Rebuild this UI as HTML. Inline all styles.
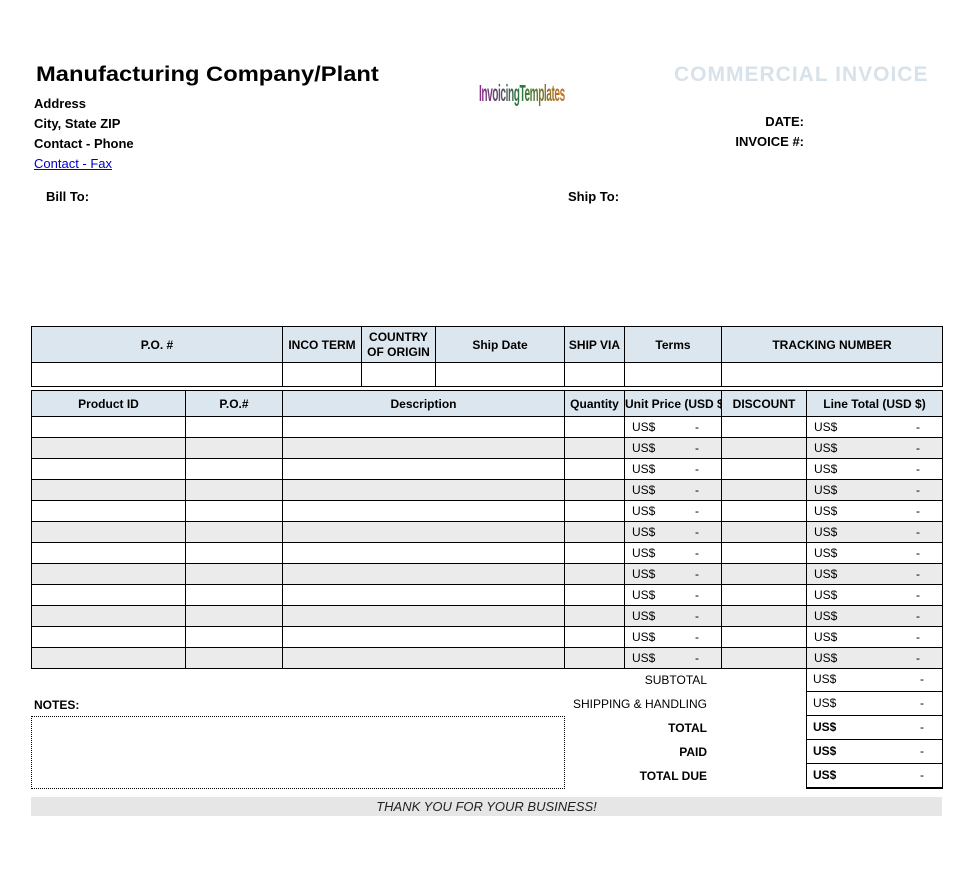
<!DOCTYPE html>
<html><head><meta charset="utf-8"><style>
body{margin:0;width:974px;height:878px;background:#fff;position:relative;font-family:"Liberation Sans",Arial,sans-serif;color:#000;overflow:hidden}
.a{position:absolute;white-space:nowrap}
table{position:absolute;border-collapse:collapse;table-layout:fixed;left:31px;font-size:12px}
td{border:1px solid #000;padding:0;overflow:hidden;white-space:nowrap}
.h td{background:#dce6ee;font-weight:bold;text-align:center}
#t2 tr.r td{height:20px}
#t2 tr.g td{background:#ebebeb}
.u{position:relative;padding-left:7px}
.u span{position:absolute;right:22px}
.s{position:absolute;left:806px;width:135px;height:23px;border:1px solid #000;border-top:none;font-size:12px;line-height:23px}
.s b,.s i{position:absolute;left:6px;font-style:normal}
.s em{position:absolute;right:18px;font-style:normal}
.lbl{position:absolute;right:267px;font-size:12px;text-align:right}
</style></head><body>
<div class="a" style="left:36px;top:63px;font-size:21px;font-weight:bold;transform:scaleX(1.13);transform-origin:left">Manufacturing Company/Plant</div>
<div class="a" style="left:34px;top:94px;font-size:13px;line-height:20px;font-weight:bold">Address<br>City, State ZIP<br>Contact - Phone<br><span style="color:#00c;text-decoration:underline;font-weight:normal">Contact - Fax</span></div>
<div class="a" style="left:479px;top:80px;font-size:23px;font-weight:bold;letter-spacing:-1px;transform:scaleX(0.44);transform-origin:left;background:linear-gradient(90deg,#8a2a8a,#2a7a3a,#d07020);-webkit-background-clip:text;color:transparent">InvoicingTemplates</div>
<div class="a" style="left:674px;top:63px;font-size:21px;font-weight:bold;color:#d8e2ea;letter-spacing:1px">COMMERCIAL INVOICE</div>
<div class="a" style="right:170px;top:112px;font-size:13px;font-weight:bold;text-align:right;line-height:20px">DATE:<br>INVOICE #:</div>
<div class="a" style="left:46px;top:189px;font-size:13px;font-weight:bold">Bill To:</div>
<div class="a" style="left:568px;top:189px;font-size:13px;font-weight:bold">Ship To:</div>

<table id="t1" style="top:326px;width:911px">
<colgroup><col style="width:251px"><col style="width:79px"><col style="width:74px"><col style="width:129px"><col style="width:60px"><col style="width:97px"><col style="width:221px"></colgroup>
<tr class="h" style="height:36px"><td>P.O. #</td><td>INCO TERM</td><td style="line-height:15px">COUNTRY<br>OF ORIGIN</td><td>Ship Date</td><td>SHIP VIA</td><td>Terms</td><td>TRACKING NUMBER</td></tr>
<tr style="height:24px"><td></td><td></td><td></td><td></td><td></td><td></td><td></td></tr>
</table>

<table id="t2" style="top:390px;width:911px">
<colgroup><col style="width:154px"><col style="width:97px"><col style="width:282px"><col style="width:60px"><col style="width:97px"><col style="width:85px"><col style="width:136px"></colgroup>
<tr class="h" style="height:26px"><td>Product ID</td><td>P.O.#</td><td>Description</td><td>Quantity</td><td>Unit Price (USD $)</td><td>DISCOUNT</td><td>Line Total (USD $)</td></tr>
<tr class="r"><td></td><td></td><td></td><td></td><td class="u">US$<span>-</span></td><td></td><td class="u">US$<span>-</span></td></tr>
<tr class="r g"><td></td><td></td><td></td><td></td><td class="u">US$<span>-</span></td><td></td><td class="u">US$<span>-</span></td></tr>
<tr class="r"><td></td><td></td><td></td><td></td><td class="u">US$<span>-</span></td><td></td><td class="u">US$<span>-</span></td></tr>
<tr class="r g"><td></td><td></td><td></td><td></td><td class="u">US$<span>-</span></td><td></td><td class="u">US$<span>-</span></td></tr>
<tr class="r"><td></td><td></td><td></td><td></td><td class="u">US$<span>-</span></td><td></td><td class="u">US$<span>-</span></td></tr>
<tr class="r g"><td></td><td></td><td></td><td></td><td class="u">US$<span>-</span></td><td></td><td class="u">US$<span>-</span></td></tr>
<tr class="r"><td></td><td></td><td></td><td></td><td class="u">US$<span>-</span></td><td></td><td class="u">US$<span>-</span></td></tr>
<tr class="r g"><td></td><td></td><td></td><td></td><td class="u">US$<span>-</span></td><td></td><td class="u">US$<span>-</span></td></tr>
<tr class="r"><td></td><td></td><td></td><td></td><td class="u">US$<span>-</span></td><td></td><td class="u">US$<span>-</span></td></tr>
<tr class="r g"><td></td><td></td><td></td><td></td><td class="u">US$<span>-</span></td><td></td><td class="u">US$<span>-</span></td></tr>
<tr class="r"><td></td><td></td><td></td><td></td><td class="u">US$<span>-</span></td><td></td><td class="u">US$<span>-</span></td></tr>
<tr class="r g"><td></td><td></td><td></td><td></td><td class="u">US$<span>-</span></td><td></td><td class="u">US$<span>-</span></td></tr>
</table>

<div class="lbl" style="top:673px">SUBTOTAL</div>
<div class="lbl" style="top:697px">SHIPPING &amp; HANDLING</div>
<div class="lbl" style="top:721px;font-weight:bold">TOTAL</div>
<div class="lbl" style="top:745px;font-weight:bold">PAID</div>
<div class="lbl" style="top:769px;font-weight:bold">TOTAL DUE</div>
<div class="s" style="top:668px"><i>US$</i><em>-</em></div>
<div class="s" style="top:691px;border-top:1px solid #000"><i>US$</i><em>-</em></div>
<div class="s" style="top:715px;border-top:1px solid #000"><b>US$</b><em>-</em></div>
<div class="s" style="top:739px;border-top:1px solid #000"><b>US$</b><em>-</em></div>
<div class="s" style="top:763px;border-top:1px solid #000;border-bottom:2px solid #000"><b>US$</b><em>-</em></div>

<div class="a" style="left:34px;top:698px;font-size:12px;font-weight:bold">NOTES:</div>
<div class="a" style="left:31px;top:716px;width:532px;height:71px;border:1px dotted #000"></div>
<div class="a" style="left:31px;top:797px;width:911px;height:19px;background:#e6e6e6;font-size:13px;font-style:italic;text-align:center;line-height:19px;color:#222">THANK YOU FOR YOUR BUSINESS!</div>
</body></html>
